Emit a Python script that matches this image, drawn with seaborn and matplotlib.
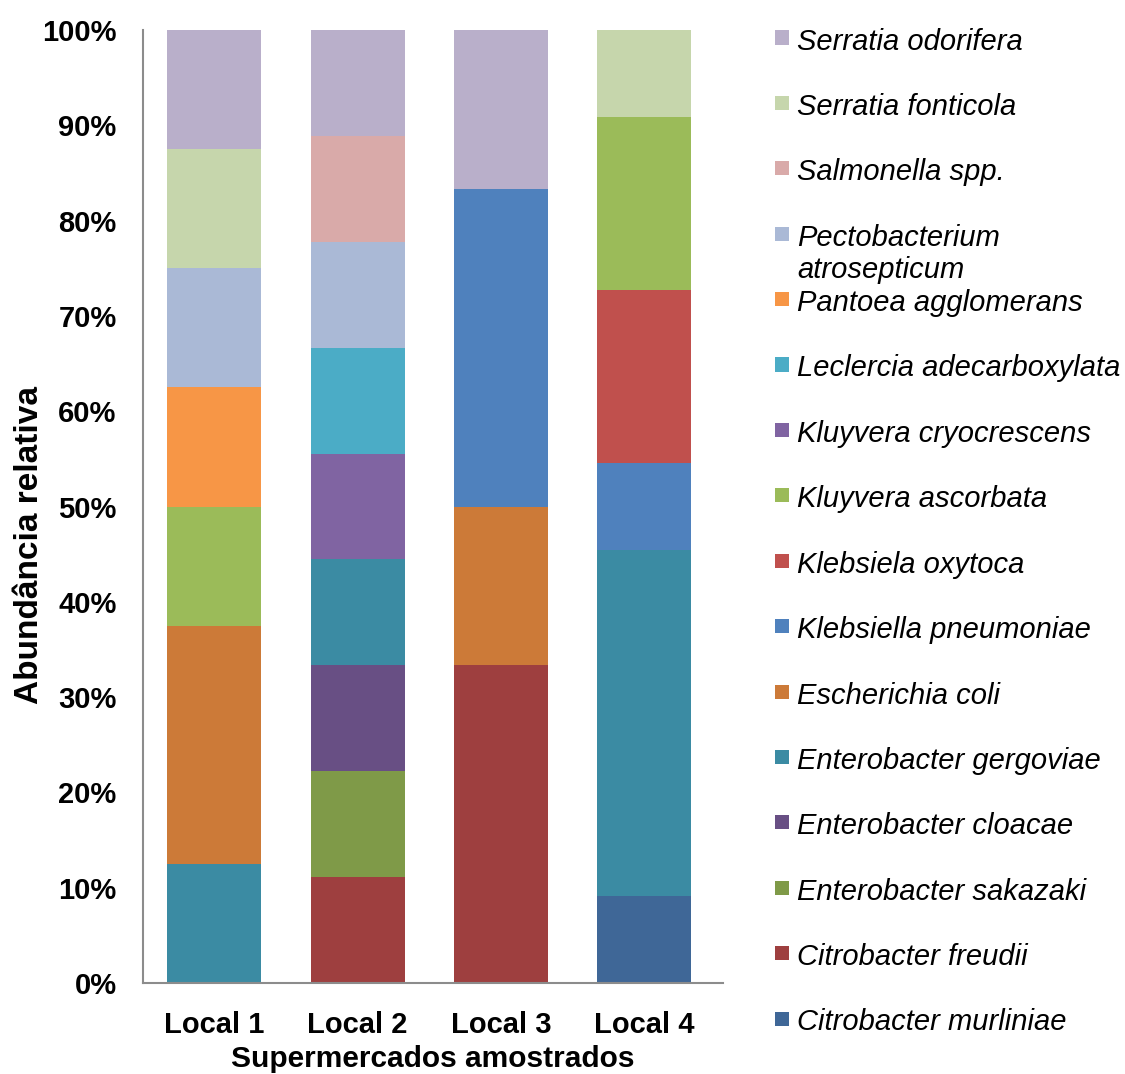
import numpy as np
import pandas as pd
import matplotlib
matplotlib.use("Agg")
import matplotlib.pyplot as plt
from matplotlib.patches import Rectangle
import seaborn as sns

# Supermarkets sampled
locais = ["Local 1", "Local 2", "Local 3", "Local 4"]

# Species in stacking order (bottom of the bar first)
especies = [
    "Citrobacter murliniae",
    "Citrobacter freudii",
    "Enterobacter sakazaki",
    "Enterobacter cloacae",
    "Enterobacter gergoviae",
    "Escherichia coli",
    "Klebsiella pneumoniae",
    "Klebsiela oxytoca",
    "Kluyvera ascorbata",
    "Kluyvera cryocrescens",
    "Leclercia adecarboxylata",
    "Pantoea agglomerans",
    "Pectobacterium\natrosepticum",
    "Salmonella spp.",
    "Serratia fonticola",
    "Serratia odorifera",
]

cores = [
    "#3F6797", "#9E3F3F", "#7F9A48", "#684F84", "#3B8BA3", "#CC7A38",
    "#4F81BD", "#C0504D", "#9BBB59", "#8064A2", "#4BACC6", "#F79646",
    "#AAB9D6", "#D9AAA9", "#C6D6AC", "#B9AFCA",
]

# Number of isolates of each species per supermarket
isolados_local1 = [0, 0, 0, 0, 1, 2, 0, 0, 1, 0, 0, 1, 1, 0, 1, 1]
isolados_local2 = [0, 1, 1, 1, 1, 0, 0, 0, 0, 1, 1, 0, 1, 1, 0, 1]
isolados_local3 = [0, 2, 0, 0, 0, 1, 2, 0, 0, 0, 0, 0, 0, 0, 0, 1]
isolados_local4 = [1, 0, 0, 0, 4, 0, 1, 2, 2, 0, 0, 0, 0, 0, 1, 0]

contagens = np.array([isolados_local1, isolados_local2,
                      isolados_local3, isolados_local4], dtype=float)
relativa = contagens / contagens.sum(axis=1, keepdims=True) * 100
acumulada = np.cumsum(relativa, axis=1)

sns.set_theme(style="white")
plt.rcParams["font.family"] = ["Liberation Sans", "DejaVu Sans"]

W, H = 1125, 1074
fig = plt.figure(figsize=(W / 100, H / 100), dpi=100)
ax = fig.add_axes([143 / W, 1 - 983 / H, (723 - 143) / W, (983 - 30) / H])

# Stacked bars: draw cumulative totals from the top layer down
for k in range(len(especies) - 1, -1, -1):
    df = pd.DataFrame({"local": locais, "valor": acumulada[:, k]})
    sns.barplot(data=df, x="local", y="valor", order=locais, color=cores[k],
                saturation=1, width=0.656, errorbar=None, linewidth=0, ax=ax)

ax.set_xlim(-0.497, 3.55)
ax.set_ylim(0, 100)
ax.set_yticks(np.arange(0, 101, 10))
ax.set_yticklabels([f"{v}%" for v in range(0, 101, 10)])
ax.tick_params(axis="y", length=0, pad=19, labelsize=21)
ax.tick_params(axis="x", length=0, pad=20, labelsize=21)
for lab in ax.get_xticklabels() + ax.get_yticklabels():
    lab.set_fontweight("bold")
    lab.set_color("black")

for side in ["top", "right"]:
    ax.spines[side].set_visible(False)
for side in ["left", "bottom"]:
    ax.spines[side].set_color("#8C8C8C")
    ax.spines[side].set_linewidth(1.5)

ax.set_xlabel("")
ax.set_ylabel("")
fig.text(433 / W, 1 - 1067 / H, "Supermercados amostrados", fontsize=21.5,
         fontweight="bold", color="black", ha="center", va="baseline")
fig.text(30 / W, 1 - 545 / H, "Abundância relativa", fontsize=24,
         fontweight="bold", color="black", rotation=90,
         ha="center", va="center")

# Legend, top entry first
y0, passo, entrelinha = 37.5, 65.4, 32
for i, k in enumerate(range(len(especies) - 1, -1, -1)):
    yc = y0 + i * passo
    fig.patches.append(Rectangle((775 / W, 1 - (yc + 7) / H), 14 / W, 14 / H,
                                 transform=fig.transFigure,
                                 facecolor=cores[k], edgecolor="none"))
    for j, linha in enumerate(especies[k].split("\n")):
        fig.text(797 / W, 1 - (yc + 1 + j * entrelinha) / H, linha,
                 fontsize=21, fontstyle="italic", color="black",
                 ha="left", va="center_baseline")

fig.savefig("out.png", dpi=100, facecolor="white")
